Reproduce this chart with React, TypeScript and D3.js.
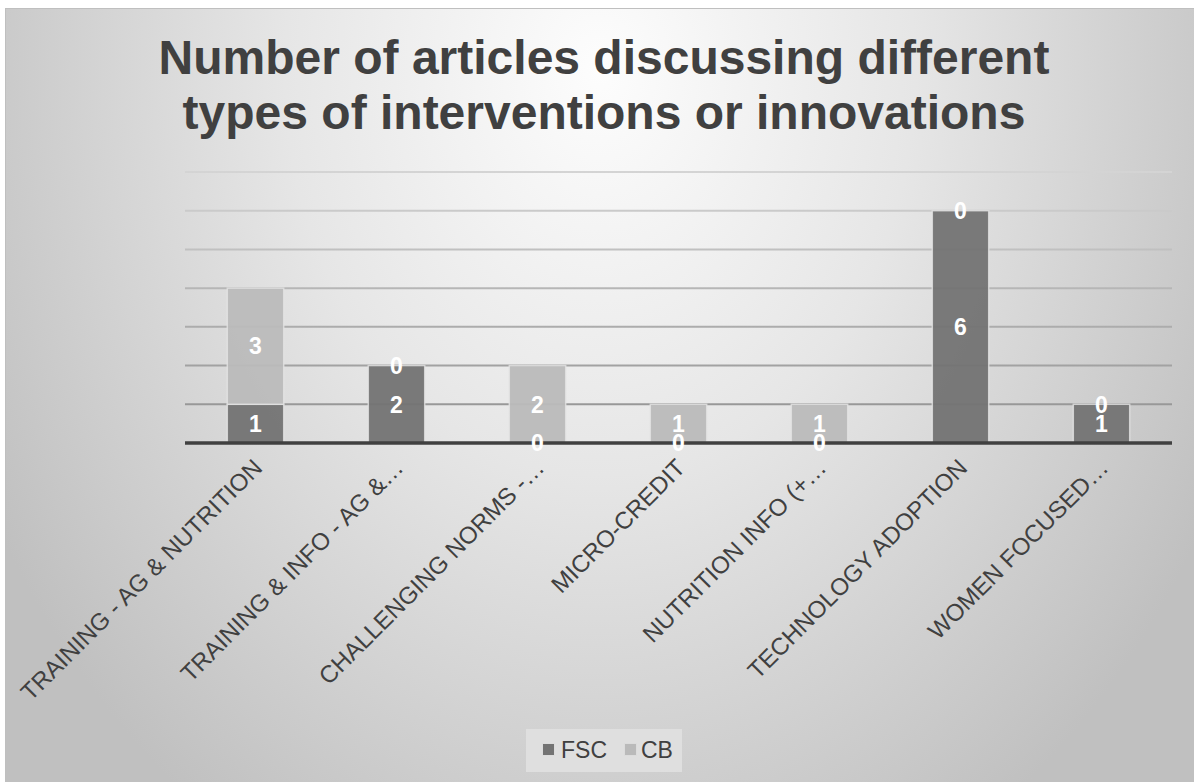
import React from "react";
import * as d3 from "d3";

// Intervention categories (long names are truncated with an ellipsis on the axis)
const categories = [
  "TRAINING - AG & NUTRITION",
  "TRAINING & INFO - AG &…",
  "CHALLENGING NORMS -…",
  "MICRO-CREDIT",
  "NUTRITION INFO (+…",
  "TECHNOLOGY ADOPTION",
  "WOMEN FOCUSED…",
];

// Article counts per series
const fscValues = [1, 2, 0, 0, 0, 6, 1];
const cbValues = [3, 0, 2, 1, 1, 0, 0];

const seriesKeys = ["FSC", "CB"];
const yTicks = [0, 1, 2, 3, 4, 5, 6, 7];

const W = 1194;
const H = 782;
const FONT = "'Liberation Sans', Arial, Helvetica, sans-serif";
const TEXT = "#404040";
const COLORS: Record<string, string> = { FSC: "#737373", CB: "#bababa" };

export default function App() {
  const rows = categories.map((c, i) => ({ cat: c, FSC: fscValues[i], CB: cbValues[i] }));

  const x = d3.scaleBand<string>().domain(categories).range([185, 1172]).paddingInner(0.6).paddingOuter(0.3);
  const y = d3.scaleLinear().domain([0, 7]).range([443, 172]);

  const stacked = d3.stack<any>().keys(seriesKeys)(rows);

  return (
    <svg
      width={W}
      height={H}
      style={{ position: "absolute", left: 0, top: 0, display: "block" }}
      fontFamily={FONT}
    >
      <defs>
        <radialGradient id="bg" gradientUnits="userSpaceOnUse" cx={600} cy={70} r={1}
          gradientTransform="translate(600 70) scale(700 900) translate(-600 -70)">
          <stop offset="0" stopColor="#fdfdfd" />
          <stop offset="0.45" stopColor="#e6e6e6" />
          <stop offset="1" stopColor="#c0c0c0" />
        </radialGradient>
        <linearGradient id="grid" gradientUnits="userSpaceOnUse" x1={0} y1={172} x2={0} y2={443}>
          <stop offset="0" stopColor="#d4d4d4" />
          <stop offset="1" stopColor="#8e8e8e" />
        </linearGradient>
      </defs>

      <rect x={0} y={0} width={W} height={H} fill="#ffffff" />
      <rect x={5.5} y={8.5} width={W} height={H} fill="url(#bg)" stroke="#bfbfbf" strokeWidth={1} />

      {/* Title */}
      <text x={604} y={74} textAnchor="middle" fontSize={48} fontWeight="bold" fill={TEXT}>
        Number of articles discussing different
      </text>
      <text x={604} y={129} textAnchor="middle" fontSize={48} fontWeight="bold" fill={TEXT}>
        types of interventions or innovations
      </text>

      {/* Horizontal gridlines */}
      {yTicks.slice(1).map((t) => (
        <line key={t} x1={185} x2={1172} y1={y(t)} y2={y(t)} stroke="url(#grid)" strokeWidth={2} />
      ))}

      {/* Stacked bars */}
      {stacked.map((s) =>
        s.map((d, i) => {
          const h = y(d[0]) - y(d[1]);
          if (h <= 0) return null;
          return (
            <rect
              key={s.key + i}
              x={x(categories[i])!}
              y={y(d[1])}
              width={x.bandwidth()}
              height={h}
              fill={COLORS[s.key]}
              fillOpacity={0.95}
              stroke="#e4e4e4"
              strokeOpacity={0.8}
              strokeWidth={1.5}
            />
          );
        })
      )}

      {/* Category axis line */}
      <line x1={185} x2={1172} y1={y(0)} y2={y(0)} stroke="#404040" strokeWidth={3.5} />

      {/* Data labels at segment centres */}
      {stacked.map((s) =>
        s.map((d, i) => (
          <text
            key={"l" + s.key + i}
            x={x(categories[i])! + x.bandwidth() / 2}
            y={(y(d[0]) + y(d[1])) / 2}
            dy="0.36em"
            textAnchor="middle"
            fontSize={23}
            fontWeight="bold"
            fill="#ffffff"
          >
            {s.key === "FSC" ? fscValues[i] : cbValues[i]}
          </text>
        ))
      )}

      {/* Rotated category labels */}
      {categories.map((c) => {
        const cx = x(c)! + x.bandwidth() / 2;
        return (
          <text
            key={c}
            transform={`translate(${cx - 4},${457}) rotate(-45)`}
            textAnchor="end"
            dy="0.72em"
            fontSize={24}
            fill={TEXT}
          >
            {c}
          </text>
        );
      })}

      {/* Legend */}
      <rect x={526} y={729} width={156} height={43} fill="#e2e2e2" fillOpacity={0.8} />
      <rect x={542.5} y={743.5} width={12} height={12} fill={COLORS.FSC} stroke="#dcdcdc" />
      <text x={561} y={758} fontSize={23} fill={TEXT}>FSC</text>
      <rect x={624.5} y={743.5} width={12} height={12} fill={COLORS.CB} stroke="#dcdcdc" />
      <text x={641} y={758} fontSize={23} fill={TEXT}>CB</text>
    </svg>
  );
}
